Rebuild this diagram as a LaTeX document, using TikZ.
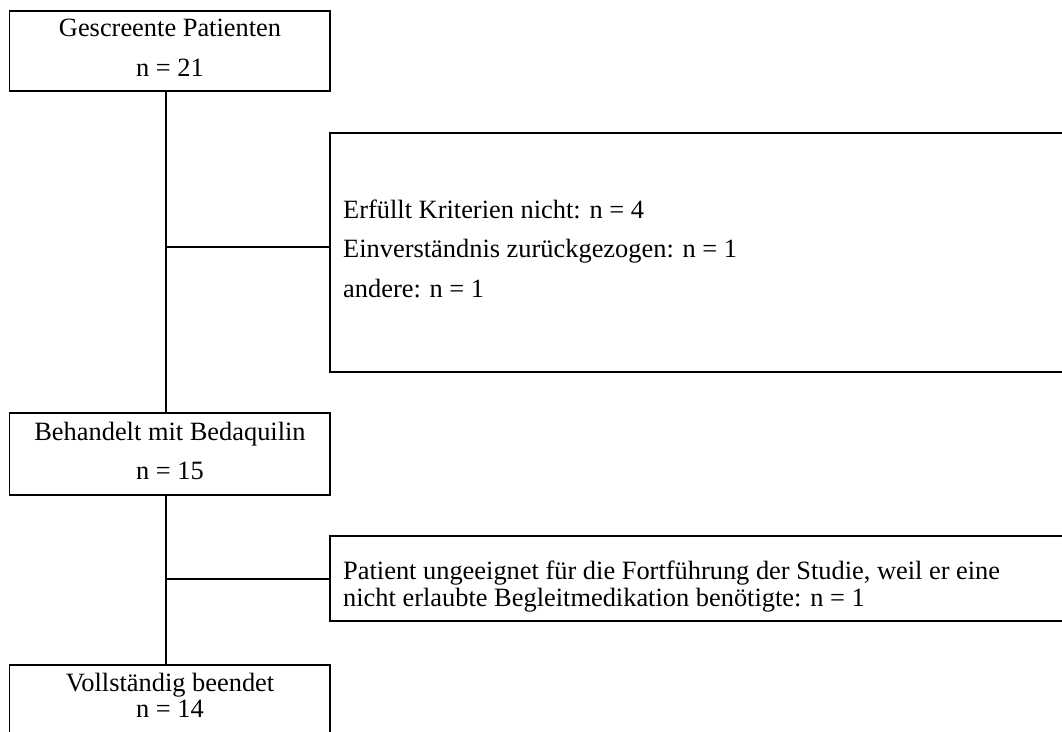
\documentclass[tikz,border=0pt]{standalone}
\usepackage{fontspec}
\setmainfont{Liberation Serif}

\tikzset{
  box/.style={draw, line width=1.6pt, inner sep=0pt},
  link/.style={line width=1.6pt},
  wide/.style={inner sep=0pt, font=\fontsize{26.4}{39.4}\selectfont},
  tight/.style={inner sep=0pt, font=\fontsize{26.4}{25}\selectfont}
}

\begin{document}
\begin{tikzpicture}[x=1pt, y=-1pt]
\useasboundingbox (0,0) rectangle (1062,731);

% boxes
\node[box, minimum width=320.7pt, minimum height=80pt] (screen) at (169.65,51) {};
\node[box, minimum width=745pt, minimum height=239.3pt] (excl1) at (702.5,252.35) {};
\node[box, minimum width=320.7pt, minimum height=82pt] (treated) at (169.65,454) {};
\node[box, minimum width=745pt, minimum height=85pt] (excl2) at (702.5,578.5) {};
\node[box, minimum width=320.7pt, minimum height=95pt] (done) at (169.65,712.5) {};

% texts
\node[wide, anchor=north, align=center] (screentxt) at (170,9.1)
  {\strut Gescreente Patienten\\\strut n = 21};
\node[wide, anchor=north west, align=left] (excl1txt) at (343,190.7)
  {\strut Erfüllt Kriterien nicht: n = 4\\\strut Einverständnis zurückgezogen: n = 1\\\strut andere: n = 1};
\node[wide, anchor=north, align=center] (treatedtxt) at (170,412.4)
  {\strut Behandelt mit Bedaquilin\\\strut n = 15};
\node[tight, anchor=north west, align=left] (excl2txt) at (343,560.5)
  {\strut Patient ungeeignet für die Fortführung der Studie, weil er eine\\\strut nicht erlaubte Begleitmedikation benötigte: n = 1};
\node[font=\fontsize{26.4}{24.3}\selectfont, inner sep=0pt, anchor=north, align=center] (donetxt) at (170,673)
  {\strut Vollständig beendet\\\strut n = 14};

% connectors
\coordinate (j1) at (166,246.7);
\coordinate (j2) at (166,579);
\draw[link] (screen.south -| j1) -- (treated.north -| j1);
\draw[link] (j1) -- (j1 -| excl1.west);
\draw[link] (treated.south -| j2) -- (done.north -| j2);
\draw[link] (j2) -- (j2 -| excl2.west);
\end{tikzpicture}
\end{document}
